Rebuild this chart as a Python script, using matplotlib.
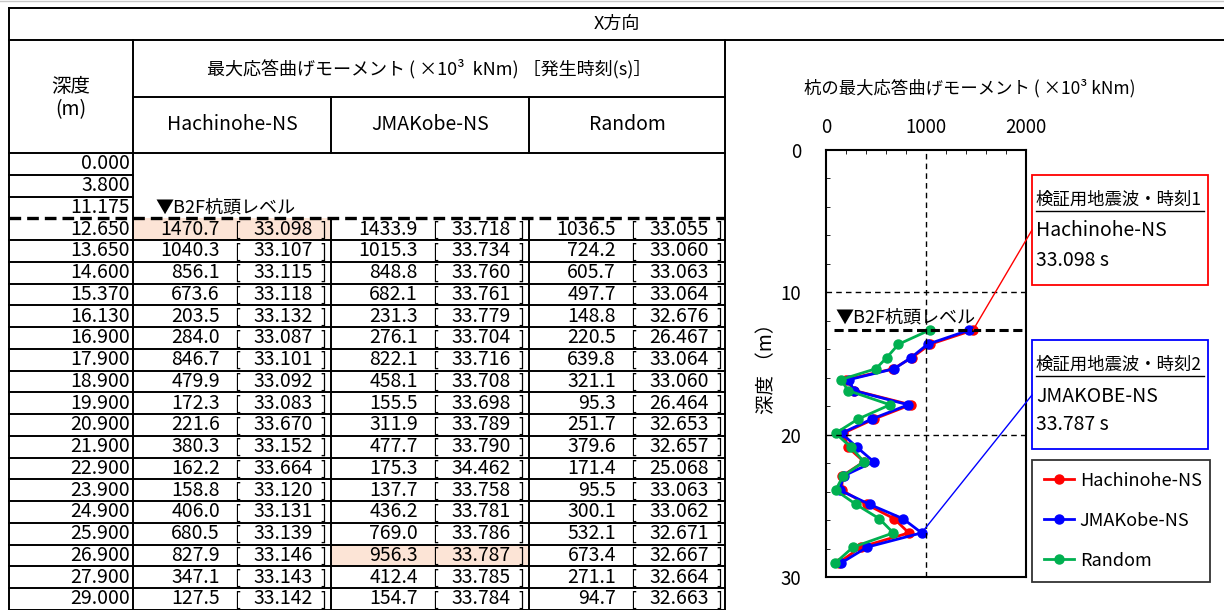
import matplotlib
matplotlib.use("Agg")
import matplotlib.pyplot as plt
from matplotlib.patches import Rectangle, ConnectionPatch

plt.rcParams['font.family'] = ['Noto Sans CJK JP', 'DejaVu Sans']

# ---- data ----
depths = [0.000, 3.800, 11.175, 12.650, 13.650, 14.600, 15.370, 16.130, 16.900, 17.900,
          18.900, 19.900, 20.900, 21.900, 22.900, 23.900, 24.900, 25.900, 26.900, 27.900, 29.000]
pile_depths = depths[3:]
b2f_depth = 12.65

waves = ['Hachinohe-NS', 'JMAKobe-NS', 'Random']
hachi_m = [1470.7, 1040.3, 856.1, 673.6, 203.5, 284.0, 846.7, 479.9, 172.3,
           221.6, 380.3, 162.2, 158.8, 406.0, 680.5, 827.9, 347.1, 127.5]
hachi_t = [33.098, 33.107, 33.115, 33.118, 33.132, 33.087, 33.101, 33.092, 33.083,
           33.670, 33.152, 33.664, 33.120, 33.131, 33.139, 33.146, 33.143, 33.142]
kobe_m = [1433.9, 1015.3, 848.8, 682.1, 231.3, 276.1, 822.1, 458.1, 155.5,
          311.9, 477.7, 175.3, 137.7, 436.2, 769.0, 956.3, 412.4, 154.7]
kobe_t = [33.718, 33.734, 33.760, 33.761, 33.779, 33.704, 33.716, 33.708, 33.698,
          33.789, 33.790, 34.462, 33.758, 33.781, 33.786, 33.787, 33.785, 33.784]
rand_m = [1036.5, 724.2, 605.7, 497.7, 148.8, 220.5, 639.8, 321.1, 95.3,
          251.7, 379.6, 171.4, 95.5, 300.1, 532.1, 673.4, 271.1, 94.7]
rand_t = [33.055, 33.060, 33.063, 33.064, 32.676, 26.467, 33.064, 33.060, 26.464,
          32.653, 32.657, 25.068, 33.063, 33.062, 32.671, 32.667, 32.664, 32.663]
moments = [hachi_m, kobe_m, rand_m]
times = [hachi_t, kobe_t, rand_t]
colors = ['#FF0000', '#0000FF', '#00B050']
# highlighted cells (wave index, row index in pile rows)
highlights = [(0, 0), (1, 15)]
check_labels = ['Hachinohe-NS', 'JMAKOBE-NS']

W, H = 1224, 610
fig = plt.figure(figsize=(W / 100, H / 100), dpi=100)
ov = fig.add_axes([0, 0, 1, 1])
ov.set_xlim(0, W)
ov.set_ylim(H, 0)
ov.axis('off')

lw = 1.4
fs = 14
# table geometry (pixels)
xl, xd, xr = 9, 133, 725
col_x = [133, 331, 529, 725]
y_top, y_h1, y_h2, y_h3 = 8, 40, 97, 153
row_h = 21.75
n_rows = len(depths)
y_rows = [y_h3 + i * row_h for i in range(n_rows + 1)]
y_pile = y_rows[3]

ov.plot([0, W], [0.5, 0.5], color='#c8c8c8', lw=1)
# highlight fills
for wi, ri in highlights:
    ov.add_patch(Rectangle((col_x[wi], y_rows[3 + ri]), col_x[wi + 1] - col_x[wi], row_h,
                           facecolor='#FCE4D6', edgecolor='none', zorder=0))

# header lines
ov.plot([xl, W], [y_top, y_top], color='k', lw=lw)
ov.plot([xl, W], [y_h1, y_h1], color='k', lw=lw)
ov.plot([xd, xr], [y_h2, y_h2], color='k', lw=lw)
ov.plot([xl, xr], [y_h3, y_h3], color='k', lw=lw)
ov.plot([xl, xl], [y_top, H], color='k', lw=lw)
ov.plot([xd, xd], [y_h1, H], color='k', lw=lw)
ov.plot([xr, xr], [y_h1, H], color='k', lw=lw)
for cx in col_x[1:3]:
    ov.plot([cx, cx], [y_h2, y_h3], color='k', lw=lw)
    ov.plot([cx, cx], [y_pile, H], color='k', lw=lw)
# row lines
for i, y in enumerate(y_rows[1:], start=1):
    if i < 3:
        ov.plot([xl, xd], [y, y], color='k', lw=lw)
    elif i > 3:
        ov.plot([xl, xr], [y, y], color='k', lw=lw)
ov.plot([xl, xr], [y_pile, y_pile], color='k', lw=2.4, ls=(0, (3.5, 1.8)))

ov.text((xl + W) / 2, (y_top + y_h1) / 2, 'X方向', ha='center', va='center', fontsize=13)
ov.text((xl + xd) / 2, 87, '深度', ha='center', va='center', fontsize=fs)
ov.text((xl + xd) / 2, 110, '(m)', ha='center', va='center', fontsize=fs)
ov.text((xd + xr) / 2, (y_h1 + y_h2) / 2, '最大応答曲げモーメント ( ×10³  kNm) ［発生時刻(s)］',
        ha='center', va='center', fontsize=13)
for k, name in enumerate(waves):
    ov.text((col_x[k] + col_x[k + 1]) / 2, (y_h2 + y_h3) / 2, name,
            ha='center', va='center', fontsize=fs)

for i, d in enumerate(depths):
    yc = y_rows[i] + row_h / 2
    ov.text(xd - 3, yc, f'{d:.3f}', ha='right', va='center', fontsize=fs)
ov.text(155, y_rows[2] + row_h / 2, '▼B2F杭頭レベル', ha='left', va='center', fontsize=13)

for k in range(3):
    x0 = col_x[k]
    for i, (m, t) in enumerate(zip(moments[k], times[k])):
        yc = y_rows[3 + i] + row_h / 2
        ov.text(x0 + 87, yc, f'{m:.1f}', ha='right', va='center', fontsize=fs)
        ov.text(x0 + 104, yc + 0.5, '[', ha='center', va='center', fontsize=12.5)
        ov.text(x0 + 180, yc, f'{t:.3f}', ha='right', va='center', fontsize=fs)
        ov.text(x0 + 190, yc + 0.5, ']', ha='center', va='center', fontsize=12.5)

# ---- chart ----
ax_l, ax_t, ax_r, ax_b = 826, 150, 1026, 577
ax = fig.add_axes([ax_l / W, 1 - ax_b / H, (ax_r - ax_l) / W, (ax_b - ax_t) / H])
for m, c, name in zip(moments, colors, waves):
    ax.plot(m, pile_depths, color=c, lw=2, marker='o', ms=6.5, label=name)
ax.set_xlim(0, 2000)
ax.set_ylim(30, 0)
ax.axvline(1000, color='k', lw=1, ls=(0, (4, 3)))
for yy in (10, 20):
    ax.axhline(yy, color='k', lw=1, ls=(0, (4, 3)))
ax.hlines(b2f_depth, 80, 2000, color='k', lw=2.2, ls=(0, (3, 1.5)), clip_on=False)
ax.text(95, b2f_depth - 0.85, '▼B2F杭頭レベル', fontsize=13, va='center', ha='left')

ax.xaxis.tick_top()
ax.set_xticks([0, 1000, 2000])
ax.set_xticks(range(0, 2001, 200), minor=True)
ax.set_yticks([0, 10, 20, 30])
ax.set_yticks(range(0, 31, 2), minor=True)
ax.tick_params(axis='both', which='both', direction='in', labelsize=13.5)
ax.tick_params(axis='x', which='major', length=0, pad=9)
ax.tick_params(axis='x', which='minor', length=3)
ax.tick_params(axis='y', which='major', length=0, pad=18)
ax.tick_params(axis='y', which='minor', length=3)
for s in ax.spines.values():
    s.set_linewidth(1.5)
ax.set_ylabel('深度 （m）', fontsize=14, labelpad=2)
ov.text(970, 88, '杭の最大応答曲げモーメント ( ×10³ kNm)', fontsize=12.5, ha='center', va='center')

leg = ax.legend(loc='upper left', bbox_to_anchor=(1032 / W, 1 - 580 / H, 178 / W, 120 / H),
                bbox_transform=fig.transFigure, mode='expand', fontsize=13,
                frameon=True, fancybox=False, edgecolor='#333333', framealpha=1,
                handlelength=1.7, labelspacing=1.22, borderpad=0.65, handletextpad=0.3,
                borderaxespad=0)
leg.get_frame().set_linewidth(1.3)

# annotation boxes
boxes = [(175, 285, colors[0], '1', check_labels[0], hachi_t[0]),
         (340, 449, colors[1], '2', check_labels[1], kobe_t[15])]
for y0, y1, c, idx, lab, t in boxes:
    ov.add_patch(Rectangle((1032, y0), 176, y1 - y0, facecolor='white', edgecolor=c, lw=1.3))
    ov.text(1036, y0 + 25, '検証用地震波・時刻' + idx, fontsize=12.5, va='center', ha='left')
    ov.plot([1036, 1204], [y0 + 36, y0 + 36], color='k', lw=1)
    ov.text(1036, y0 + 56, lab, fontsize=14, va='center', ha='left')
    ov.text(1036, y0 + 85, f'{t:.3f} s', fontsize=14, va='center', ha='left')

con1 = ConnectionPatch(xyA=(hachi_m[0], pile_depths[0]), coordsA=ax.transData,
                       xyB=(1032, 230), coordsB=ov.transData, color=colors[0], lw=1)
con2 = ConnectionPatch(xyA=(kobe_m[15], pile_depths[15]), coordsA=ax.transData,
                       xyB=(1032, 395), coordsB=ov.transData, color=colors[1], lw=1)
fig.add_artist(con1)
fig.add_artist(con2)

fig.savefig('out.png', dpi=100)
